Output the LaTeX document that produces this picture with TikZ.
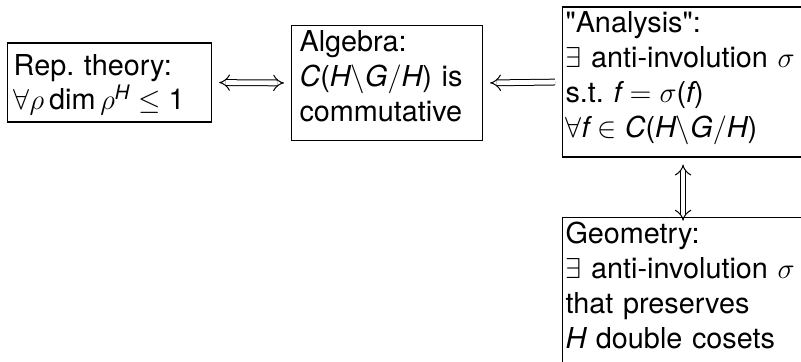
\documentclass[tikz,border=0pt]{standalone}
\usepackage{fontspec}
\setmainfont{TeX Gyre Heros}[NFSSFamily=heros]
\usetikzlibrary{arrows.meta}

% digits and parentheses in formulas come from the text face
\AtBeginDocument{%
  \DeclareSymbolFont{herosops}{TU}{heros}{m}{n}%
  \DeclareMathSymbol{1}{\mathalpha}{herosops}{`1}%
  \DeclareMathSymbol{(}{\mathopen}{herosops}{`(}%
  \DeclareMathSymbol{)}{\mathclose}{herosops}{`)}}

% struts that fix the first baseline and the last depth of each box
\newcommand\topstrut{\rule{0pt}{13pt}}
\newcommand\botstrut{\rule[-9.5pt]{0pt}{9.5pt}}
\newcommand\mi[1]{\mathit{#1}}

\begin{document}
\frenchspacing
\begin{tikzpicture}[x=0.5pt,y=-0.5pt,
  box/.style={draw, line width=0.55pt, align=left, inner ysep=0pt,
    font=\fontsize{14.4pt}{17.5pt}\selectfont},
  equiv/.style={double, double distance=2.4pt, line width=0.5pt,
    shorten <=3.5pt, shorten >=3.5pt}]
  \useasboundingbox (0,0) rectangle (801,362);

  \node[box, anchor=west, text width=95.65pt, inner xsep=3.25pt] (rep) at (6.7,82.5)
    {\rule{0pt}{16.5pt}Rep. theory:\\[-0.5pt] $\forall\rho\dim\rho^{\mi{H}}\leq 1$\rule[-6pt]{0pt}{6pt}};

  \node[box, anchor=west, text width=87.5pt, inner xsep=4pt] (alg) at (291,83)
    {\topstrut Algebra:\\ $\mi{C}(\mi{H}\backslash\mi{G}/\mi{H})$ is\\ commutative\botstrut};

  \node[box, anchor=west, text width=117.5pt, inner xsep=1.5pt] (ana) at (562,82)
    {\topstrut \textquotedbl Analysis\textquotedbl:\\ $\exists$ anti-involution $\sigma$\\
     s.t. $\mi{f}=\sigma(\mi{f})$\\ $\forall\mi{f}\in\mi{C}(\mi{H}\backslash\mi{G}/\mi{H})$\botstrut};

  \node[box, anchor=north west, text width=117.5pt, inner xsep=1.5pt] (geo) at (562,216.7)
    {\topstrut Geometry:\\ $\exists$ anti-involution $\sigma$\\
     that preserves\\ $\mi{H}$ double cosets\botstrut};

  \draw[equiv, Implies-Implies] (rep.east) -- (alg.west);
  \draw[equiv, Implies-] (alg.east) -- (ana.west);
  \draw[equiv, Implies-Implies, shorten >=-2pt] (ana.south) -- (geo.north);
\end{tikzpicture}
\end{document}
